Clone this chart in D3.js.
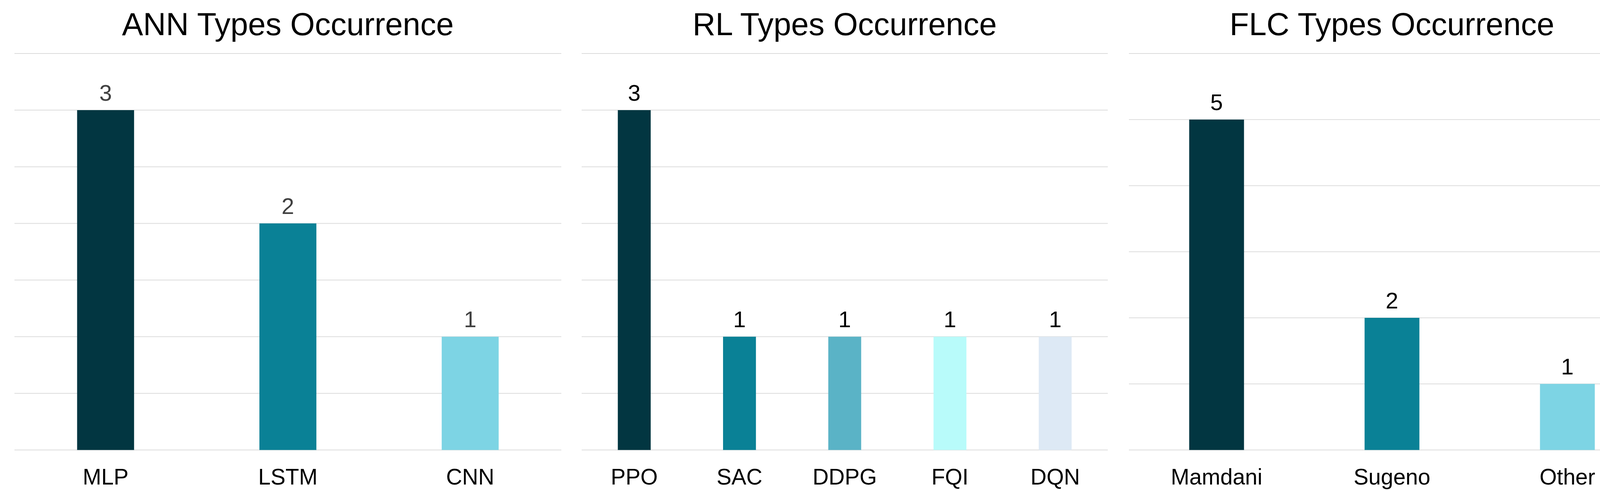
<!DOCTYPE html>
<html>
<head>
<meta charset="utf-8">
<script src="https://cdn.jsdelivr.net/npm/d3@7"></script>
<style>
  body { margin: 0; background: #fff; }
  svg { display: block; font-family: "Liberation Sans", Arial, sans-serif; }
</style>
</head>
<body>
<div id="chart"></div>
<script>
// Data for the three panels
var annTypes = ["MLP", "LSTM", "CNN"];
var annCounts = [3, 2, 1];
var annColors = ["#023641", "#0a8196", "#7dd4e4"];

var rlTypes = ["PPO", "SAC", "DDPG", "FQI", "DQN"];
var rlCounts = [3, 1, 1, 1, 1];
var rlColors = ["#023641", "#0a8196", "#5ab3c6", "#b8fbfa", "#dde9f5"];

var flcTypes = ["Mamdani", "Sugeno", "Other"];
var flcCounts = [5, 2, 1];
var flcColors = ["#023641", "#0a8196", "#7dd4e4"];

var svgWidth = 4268;
var svgHeight = 1255;

var svg = d3.select("#chart")
  .append("svg")
  .attr("width", svgWidth)
  .attr("height", svgHeight);

// plot area top / bottom (note: "top" is reserved on window)
var plotTop = 137, plotBottom = 1152.5;

// one panel = one small bar chart
function drawPanel(opts) {
  var g = svg.append("g");

  var xScale = d3.scaleBand()
    .domain(opts.cats)
    .range([opts.x0, opts.x1])
    .padding(0);

  var yScale = d3.scaleLinear()
    .domain([0, opts.yMax])
    .range([plotBottom, plotTop]);

  // gridlines
  var ticks = d3.range(0, opts.yMax + opts.step / 2, opts.step);
  g.selectAll("line.grid")
    .data(ticks)
    .enter()
    .append("line")
    .attr("class", "grid")
    .attr("x1", opts.x0)
    .attr("x2", opts.x1)
    .attr("y1", d => yScale(d))
    .attr("y2", d => yScale(d))
    .attr("stroke", "#dcdcdc")
    .attr("stroke-width", 2);

  var barW = xScale.bandwidth() * 0.3125;
  var rows = opts.cats.map((c, i) => ({ cat: c, val: opts.vals[i], color: opts.colors[i] }));

  g.selectAll("rect")
    .data(rows)
    .enter()
    .append("rect")
    .attr("x", d => xScale(d.cat) + xScale.bandwidth() / 2 - barW / 2)
    .attr("width", barW)
    .attr("y", d => yScale(d.val))
    .attr("height", d => yScale(0) - yScale(d.val))
    .attr("fill", d => d.color);

  // value labels
  g.selectAll("text.val")
    .data(rows)
    .enter()
    .append("text")
    .attr("class", "val")
    .attr("x", d => xScale(d.cat) + xScale.bandwidth() / 2)
    .attr("y", d => yScale(d.val) - 24)
    .attr("text-anchor", "middle")
    .attr("font-size", 58)
    .attr("fill", opts.valColor)
    .text(d => d.val);

  // category labels
  var xAxis = d3.axisBottom(xScale).tickSize(0).tickPadding(0);
  var ax = g.append("g")
    .attr("transform", `translate(0,${plotBottom})`)
    .call(xAxis);
  ax.select(".domain").remove();
  ax.selectAll("text")
    .attr("dy", null)
    .attr("y", 88)
    .attr("font-size", 57)
    .attr("font-family", "Liberation Sans, Arial, sans-serif")
    .attr("fill", "#000");

  // title
  g.append("text")
    .attr("x", (opts.x0 + opts.x1) / 2)
    .attr("y", 90)
    .attr("text-anchor", "middle")
    .attr("font-size", 81)
    .attr("fill", "#000")
    .text(opts.title);
}

drawPanel({ title: "ANN Types Occurrence", cats: annTypes, vals: annCounts, colors: annColors,
  x0: 37, x1: 1437, yMax: 3.5, step: 0.5, valColor: "#404040" });
drawPanel({ title: "RL Types Occurrence", cats: rlTypes, vals: rlCounts, colors: rlColors,
  x0: 1489, x1: 2836, yMax: 3.5, step: 0.5, valColor: "#000" });
drawPanel({ title: "FLC Types Occurrence", cats: flcTypes, vals: flcCounts, colors: flcColors,
  x0: 2890, x1: 4237, yMax: 6, step: 1, valColor: "#000" });
</script>
</body>
</html>
